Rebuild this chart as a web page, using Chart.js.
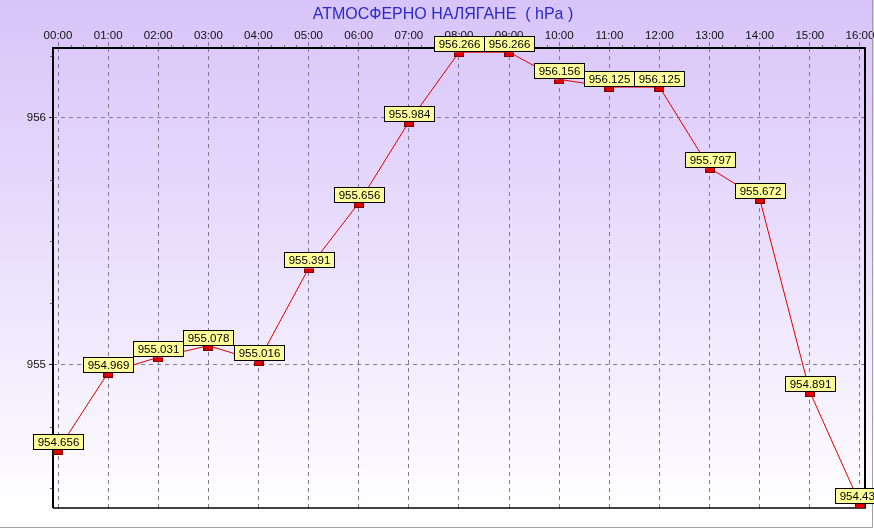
<!DOCTYPE html>
<html>
<head>
<meta charset="utf-8">
<script src="https://cdn.jsdelivr.net/npm/chart.js@4.4.1/dist/chart.umd.min.js"></script>
<style>
  html, body { margin: 0; padding: 0; background: #fff; }
  #wrap { width: 874px; height: 529px; position: relative; }
</style>
</head>
<body>
<div id="wrap"><canvas id="pressureChart" width="874" height="529"></canvas></div>
<script>
// данни
const hours = ['00:00', '01:00', '02:00', '03:00', '04:00', '05:00', '06:00', '07:00', '08:00',
               '09:00', '10:00', '11:00', '12:00', '13:00', '14:00', '15:00', '16:00'];
const pressure = [954.656, 954.969, 955.031, 955.078, 955.016, 955.391, 955.656, 955.984, 956.266,
                  956.266, 956.156, 956.125, 956.125, 955.797, 955.672, 954.891, 954.438];
const yMajorTicks = [955, 956];
const chartTitle = 'АТМОСФЕРНО НАЛЯГАНЕ  ( hPa )';

const FONT = 'Liberation Sans, Arial, sans-serif';

// червеното маркерче
function makeMarker() {
    const c = document.createElement('canvas');
    c.width = 10;
    c.height = 10;
    const g = c.getContext('2d');
    g.fillStyle = '#7a0000';
    g.fillRect(0, 5, 10, 5);
    g.fillStyle = '#e00000';
    g.fillRect(1, 5, 8, 4);
    return c;
}

const backgroundPlugin = {
    id: 'bg',
    beforeDraw(chart) {
        const ctx = chart.ctx;
        const grad = ctx.createLinearGradient(0, 0, 0, 515);
        grad.addColorStop(0, '#d8c4f9');
        grad.addColorStop(0.5, '#eae0fc');
        grad.addColorStop(1, '#ffffff');
        ctx.save();
        ctx.fillStyle = grad;
        ctx.fillRect(0, 0, chart.width, chart.height);

        // заглавие
        ctx.font = '16px ' + FONT;
        ctx.fillStyle = '#2a2ac8';
        ctx.textAlign = 'center';
        ctx.textBaseline = 'middle';
        ctx.fillText(chartTitle, 443, 15);
        ctx.restore();
    },
    beforeDatasetsDraw(chart) {
        const ctx = chart.ctx;
        const a = chart.chartArea;
        const xs = chart.scales.x;
        const ys = chart.scales.y;
        ctx.save();
        // рамка на графиката
        ctx.strokeStyle = '#000';
        ctx.lineWidth = 2;
        ctx.beginPath();
        ctx.moveTo(a.left, a.bottom);
        ctx.lineTo(a.left, a.top);
        ctx.lineTo(a.right, a.top);
        ctx.lineTo(a.right, a.bottom);
        ctx.stroke();
        ctx.lineWidth = 1.5;
        ctx.beginPath();
        ctx.moveTo(a.left, a.bottom);
        ctx.lineTo(a.right + 1, a.bottom);
        ctx.stroke();
        // малки деления
        ctx.lineWidth = 1;
        ctx.strokeStyle = '#6a6a7a';
        ctx.beginPath();
        for (let v = 0; v <= hours.length - 1; v += 0.25) {
            if (Number.isInteger(v)) continue;
            const px = Math.round(xs.getPixelForValue(v)) + 0.5;
            ctx.moveTo(px, a.top - 3);
            ctx.lineTo(px, a.top - 1);
        }
        for (let v = 954.5; v <= 956.25; v += 0.25) {
            if (Number.isInteger(v)) continue;
            const py = Math.round(ys.getPixelForValue(v)) + 0.5;
            ctx.moveTo(a.left - 3, py);
            ctx.lineTo(a.left - 1, py);
        }
        ctx.stroke();
        // рамка на прозореца
        ctx.strokeStyle = '#a0a0a0';
        ctx.beginPath();
        ctx.moveTo(0, chart.height - 1.5);
        ctx.lineTo(chart.width - 1.5, chart.height - 1.5);
        ctx.lineTo(chart.width - 1.5, 0);
        ctx.stroke();
        ctx.restore();
    }
};

// жълтите етикети със стойностите
const valueLabels = {
    id: 'valueLabels',
    afterDatasetsDraw(chart) {
        const ctx = chart.ctx;
        const meta = chart.getDatasetMeta(0);
        ctx.save();
        ctx.font = '11.5px ' + FONT;
        ctx.textAlign = 'center';
        ctx.textBaseline = 'middle';
        meta.data.forEach((pt, i) => {
            const txt = pressure[i].toFixed(3);
            const w = 50, h = 15;
            const x = Math.round(pt.x - w / 2) + 0.5;
            const y = Math.round(pt.y - 1 - h) + 0.5;
            ctx.fillStyle = '#ffff99';
            ctx.fillRect(x, y, w, h);
            ctx.strokeStyle = '#000';
            ctx.lineWidth = 1;
            ctx.strokeRect(x, y, w, h);
            ctx.fillStyle = '#000';
            ctx.fillText(txt, x + w / 2, y + h / 2 + 0.5);
        });
        ctx.restore();
    }
};

const ctx = document.getElementById('pressureChart').getContext('2d');
new Chart(ctx, {
    type: 'line',
    data: {
        datasets: [{
            data: pressure.map((v, i) => ({ x: i, y: v })),
            borderColor: '#e00000',
            borderWidth: 1,
            pointStyle: makeMarker(),
            pointRadius: 5,
            tension: 0,
            fill: false
        }]
    },
    options: {
        responsive: false,
        animation: false,
        events: [],
        layout: { padding: { left: 0, top: 0, right: 9, bottom: 21 } },
        plugins: {
            legend: { display: false },
            tooltip: { enabled: false },
            title: { display: false }
        },
        scales: {
            x: {
                type: 'linear',
                position: 'top',
                min: -0.1,
                max: 16.1,
                afterBuildTicks(scale) {
                    scale.ticks = hours.map((h, i) => ({ value: i }));
                },
                afterFit(scale) {
                    scale.height = 48;
                    scale.paddingLeft = 0;
                    scale.paddingRight = 0;
                },
                ticks: {
                    color: '#111',
                    font: { family: FONT, size: 11.5 },
                    padding: -1,
                    maxRotation: 0,
                    autoSkip: false,
                    callback: (v) => hours[v]
                },
                grid: {
                    color: '#807a94',
                    tickLength: 6,
                    tickColor: '#807a94',
                    tickBorderDash: [4, 4]
                },
                border: { display: false, dash: [4, 4] }
            },
            y: {
                min: 954.421,
                max: 956.283,
                afterBuildTicks(scale) {
                    scale.ticks = yMajorTicks.map(v => ({ value: v }));
                },
                afterFit(scale) {
                    scale.width = 53;
                    scale.paddingTop = 0;
                    scale.paddingBottom = 0;
                },
                ticks: {
                    color: '#111',
                    font: { family: FONT, size: 11.5 },
                    padding: 3,
                    callback: (v) => String(v)
                },
                grid: {
                    color: '#807a94',
                    tickLength: 4,
                    tickColor: '#222',
                    tickBorderDash: []
                },
                border: { display: false, dash: [4, 4] }
            }
        }
    },
    plugins: [backgroundPlugin, valueLabels]
});
</script>
</body>
</html>
